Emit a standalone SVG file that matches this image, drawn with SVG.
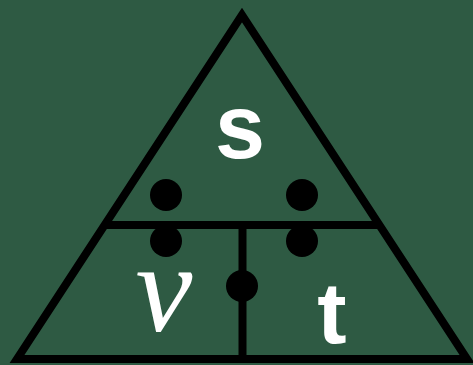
<svg xmlns="http://www.w3.org/2000/svg" width="473" height="365" viewBox="0 0 473 365">
<style>
.ln{stroke:#000;stroke-width:8;fill:none}
.dot{fill:#000}
.lbl{fill:#fff;font-family:"Liberation Sans",Arial,sans-serif;font-weight:bold;text-anchor:middle}
.scr{fill:#fff;font-family:"Liberation Serif","DejaVu Serif",serif;font-style:italic;text-anchor:middle}
</style>
<rect width="473" height="365" fill="#2e5a43"/>
<g id="triangle">
<polygon class="ln" points="242,15 17,359 467,359" stroke-linejoin="miter"/>
</g>
<g id="connectors">
<line class="ln" x1="104" y1="225" x2="380" y2="225"/>
<line class="ln" x1="242.5" y1="225" x2="242.5" y2="359"/>
</g>
<g id="node-s">
<text class="lbl" x="240" y="158" font-size="90">s</text>
</g>
<g id="node-v">
<text class="scr" x="164" y="331" font-size="128">v</text>
</g>
<g id="node-t">
<text class="lbl" x="332" y="343" font-size="88">t</text>
</g>
<g id="dots">
<circle class="dot" cx="166" cy="195" r="16"/>
<circle class="dot" cx="302" cy="195" r="16"/>
<circle class="dot" cx="166" cy="241" r="16"/>
<circle class="dot" cx="302" cy="241" r="16"/>
<circle class="dot" cx="242" cy="286" r="16"/>
</g>
</svg>
